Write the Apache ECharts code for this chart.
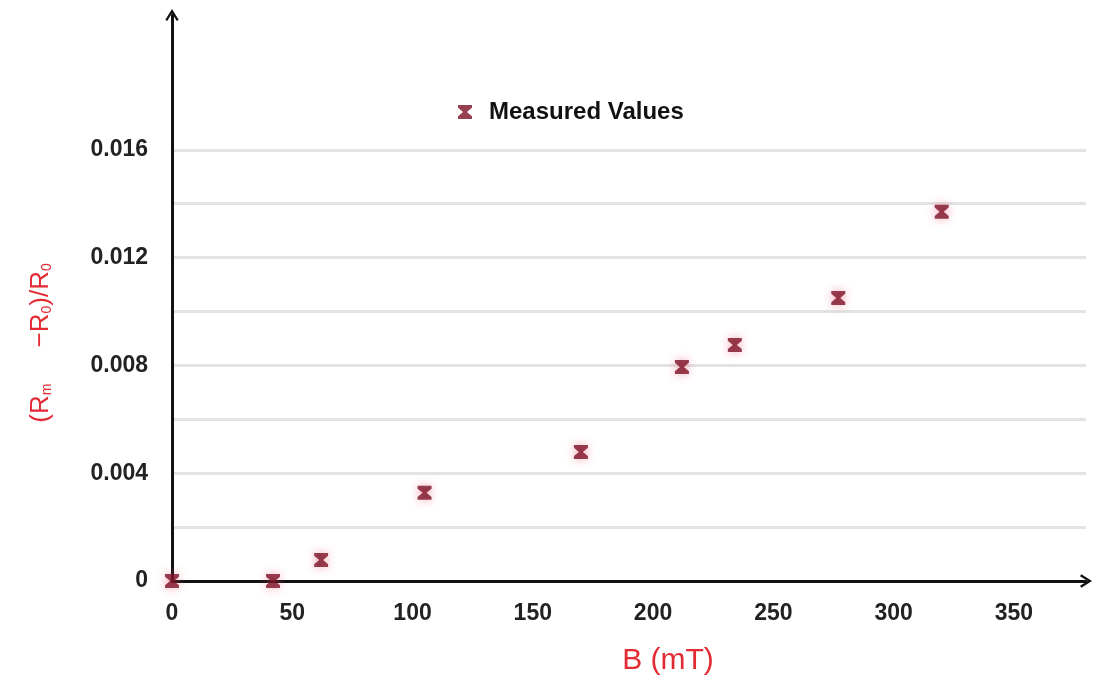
<!DOCTYPE html>
<html>
<head>
<meta charset="utf-8">
<script src="https://cdn.jsdelivr.net/npm/echarts@6/dist/echarts.min.js"></script>
<style>
  html, body { margin: 0; padding: 0; background: #fff; }
  #chart { width: 1093px; height: 686px; }
</style>
</head>
<body>
<div id="chart"></div>
<script>
// measured points, B in mT
var bValues = [0, 42, 62, 105, 170, 212, 234, 277, 320];
var ratioValues = [0, 0, 0.00078, 0.00327, 0.00479, 0.00794, 0.00876, 0.0105, 0.0137];
var seriesName = 'Measured Values';
var yLabelTicks = [0, 0.004, 0.008, 0.012, 0.016];

var points = [];
for (var i = 0; i < bValues.length; i++) {
    points.push([bValues[i], ratioValues[i]]);
}

var red = '#e32b33';
var font = 'Liberation Sans, Arial, sans-serif';
var hourglass = 'path://M0,0 L10,0 L10,2 L6.4,5 L10,8 L10,10 L0,10 L0,8 L3.6,5 L0,2 Z';
var chevron = 'path://M5,0 L10,8 L8.6,9 L5,3.2 L1.4,9 L0,8 Z';

// gridlines every 0.002 up to 0.016 only
var gridColors = ['rgba(0,0,0,0)'];
for (var k = 1; k <= 8; k++) gridColors.push('#e3e3e3');
gridColors.push('rgba(0,0,0,0)', 'rgba(0,0,0,0)', 'rgba(0,0,0,0)');

var chart = echarts.init(document.getElementById('chart'));

var option = {
    backgroundColor: '#fff',
    animation: false,
    grid: {
        left: 172,
        right: 7,
        top: 15,
        bottom: 105
    },
    legend: {
        data: [{ name: seriesName, icon: hourglass }],
        left: 453,
        top: 95,
        itemWidth: 38,
        itemHeight: 14,
        symbolKeepAspect: true,
        textStyle: {
            color: '#111',
            fontSize: 24,
            fontWeight: 'bold',
            fontFamily: font
        }
    },
    xAxis: {
        type: 'value',
        min: 0,
        max: 380,
        interval: 50,
        name: 'B (mT)',
        nameLocation: 'middle',
        nameGap: 65,
        nameTextStyle: {
            color: red,
            fontSize: 30,
            fontFamily: font,
            padding: [0, 0, 0, 78]
        },
        axisLine: {
            onZero: false,
            symbol: ['none', chevron],
            symbolSize: [14, 12],
            lineStyle: { color: '#111', width: 3 }
        },
        axisTick: { show: false },
        splitLine: { show: false },
        axisLabel: {
            showMaxLabel: false,
            margin: 21,
            color: '#222',
            fontSize: 23,
            fontWeight: 'bold',
            fontFamily: font
        }
    },
    yAxis: {
        type: 'value',
        min: 0,
        max: 0.021,
        interval: 0.002,
        name: '(R{s|m}     −R{s|0})/R{s|0}',
        nameLocation: 'middle',
        nameGap: 118,
        nameTextStyle: {
            color: red,
            fontSize: 26,
            fontFamily: font,
            padding: [0, 90, 0, 0],
            rich: {
                s: {
                    color: red,
                    fontSize: 14,
                    fontFamily: font,
                    verticalAlign: 'bottom',
                    padding: [9, 0, 0, 0]
                }
            }
        },
        axisLine: {
            onZero: false,
            symbol: ['none', chevron],
            symbolSize: [14, 12],
            lineStyle: { color: '#111', width: 3 }
        },
        axisTick: { show: false },
        splitLine: {
            show: true,
            lineStyle: { color: gridColors, width: 3 }
        },
        axisLabel: {
            margin: 24,
            color: '#222',
            fontSize: 23,
            fontWeight: 'bold',
            fontFamily: font,
            formatter: function (v) {
                for (var j = 0; j < yLabelTicks.length; j++) {
                    if (Math.abs(v - yLabelTicks[j]) < 1e-9) {
                        return v === 0 ? '0' : v.toFixed(3);
                    }
                }
                return '';
            }
        }
    },
    series: [
        {
            name: seriesName,
            type: 'scatter',
            data: points,
            symbol: hourglass,
            symbolSize: [14, 14],
            clip: false,
            itemStyle: {
                color: '#7c1026',
                shadowBlur: 10,
                shadowColor: 'rgba(235,70,105,0.6)'
            }
        }
    ]
};

chart.setOption(option);
</script>
</body>
</html>
